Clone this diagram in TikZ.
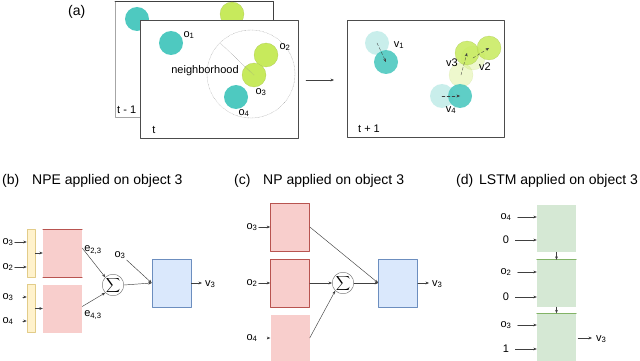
\documentclass[tikz,border=0pt]{standalone}
\usepackage{fontspec}
\setmainfont{Liberation Sans}
\usetikzlibrary{arrows.meta,calc,positioning}
\definecolor{ballteal}{RGB}{78,201,192}
\definecolor{balllime}{RGB}{199,234,92}
\definecolor{npered}{RGB}{248,206,204}
\definecolor{npeline}{RGB}{184,84,80}
\definecolor{npblue}{RGB}{218,232,252}
\definecolor{npblueline}{RGB}{108,142,191}
\definecolor{lstmgreen}{RGB}{213,232,212}
\definecolor{lstmline}{RGB}{130,179,102}
\definecolor{pairyellow}{RGB}{255,242,204}
\definecolor{pairline}{RGB}{214,182,86}
\newcommand{\sub}[2]{#1\textsubscript{#2}}

\begin{document}
\begin{tikzpicture}[x=1pt,y=-1pt,>=Stealth,line cap=round,line join=round,
  lbl/.style={font=\fontsize{11}{12}\selectfont,inner sep=1pt},
  ttl/.style={font=\fontsize{14}{16}\selectfont,anchor=west,inner sep=0pt},
  worldframe/.style={draw=black!70,fill=white,line width=0.7pt},
  ball/.style={circle,minimum size=24pt,inner sep=0pt},
  tealball/.style={ball,fill=ballteal},
  limeball/.style={ball,fill=balllime,draw=balllime!85!black,line width=0.2pt},
  ghost/.style={opacity=0.3},
  conn/.style={-{Stealth[length=3.5pt,width=2.8pt]},black!75,line width=0.45pt},
  move/.style={conn,densely dashed,line width=0.35pt},
  redbox/.style={fill=npered,minimum width=39pt,minimum height=48pt,inner sep=0pt},
  bluebox/.style={fill=npblue,draw=npblueline,line width=0.6pt,minimum width=39pt,minimum height=48pt,inner sep=0pt},
  greenbox/.style={fill=lstmgreen,minimum width=39pt,minimum height=47pt,inner sep=0pt},
  pairbar/.style={fill=pairyellow,draw=pairline!70,line width=0.5pt,minimum width=8pt,minimum height=48pt,inner sep=0pt},
  sumnode/.style={circle,draw=black!60,fill=white,minimum size=18pt,inner sep=0pt,font=\fontsize{10}{10}\selectfont}]
 \useasboundingbox (0,0) rectangle (640,361);

 % (a) scene at t-1, t and t+1
 \node[ttl] (taga) at (68,12) {(a)};
 \draw[draw=black!35,fill=white,line width=0.7pt] (115,1) rectangle (273,117);
 \draw[black!75,line width=0.7pt] (115,1) -- (273,1) -- (273,20);
 \node[tealball] (prevone) at (137,19) {};
 \node[limeball] (prevtwo) at (232,14) {};
 \node[lbl,anchor=west] (tprev) at (116,110) {t - 1};
 \draw[worldframe] (140,20) rectangle (298,138);
 \node[lbl] (tnow) at (154,130) {t};
 \draw[black!35,densely dotted] (251,74) circle (44);
 \node[tealball] (oone) at (171,43) {};
 \node[limeball] (otwo) at (266,55) {};
 \node[limeball] (othree) at (254,75) {};
 \node[tealball] (ofour) at (236,97) {};
 \coordinate (nbedge) at (220,43);
 \draw[black!45,densely dotted] (othree.center) -- (nbedge);
 \node[lbl] (loone) at (189,35) {\sub{o}{1}};
 \node[lbl] (lotwo) at (285,47) {\sub{o}{2}};
 \node[lbl] (lothree) at (261,92) {\sub{o}{3}};
 \node[lbl] (lofour) at (244,113) {\sub{o}{4}};
 \node[lbl] (nbtext) at (205,71) {neighborhood};
 \coordinate (stepfrom) at (306,80);
 \coordinate (stepto) at (334,80);
 \draw[conn] (stepfrom) -- (stepto);

 \draw[worldframe] (347,20) rectangle (504,137);
 \node[lbl] (tnext) at (369,129) {t + 1};
 \node[tealball,ghost] (oldone) at (377,43) {};
 \node[limeball,ghost] (oldtwo) at (473,58) {};
 \node[limeball,ghost] (oldthree) at (461,75) {};
 \node[tealball,ghost] (oldfour) at (442,96) {};
 \node[tealball,opacity=0.9] (newone) at (386,62) {};
 \node[limeball,opacity=0.85] (newthree) at (467,53) {};
 \node[limeball,opacity=0.85] (newtwo) at (489,48) {};
 \node[tealball,opacity=0.9] (newfour) at (460,96) {};
 \draw[move] (oldone.center) -- (newone.center);
 \draw[move] (oldtwo.center) -- (newtwo.center);
 \draw[move] (oldthree.center) -- (newthree.center);
 \draw[move] (oldfour.center) -- (newfour.center);
 \node[lbl] (lvone) at (399,45) {\sub{v}{1}};
 \node[lbl] (lvtwo) at (485,67) {v2};
 \node[lbl] (lvthree) at (452,63) {v3};
 \node[lbl] (lvfour) at (451,110) {\sub{v}{4}};

 % (b) NPE
 \node[ttl] (tagb) at (2,181) {(b)};
 \node[ttl] (titleb) at (32,181) {NPE applied on object 3};
 \node[pairbar] (pairtop) at (31,253) {};
 \node[pairbar] (pairbot) at (31,308.5) {};
 \node[redbox] (enctop) at (62.5,253) {};
 \node[redbox] (encbot) at (62.5,308.5) {};
 \draw[npeline,line width=0.6pt] (enctop.north west) -- (enctop.north east)
  (enctop.south west) -- (enctop.south east);
 \node[sumnode] (sumb) at (113,285) {$\displaystyle\sum$};
 \node[bluebox] (decb) at (171.5,283) {};
 \node[lbl] (pbthree) at (8,242) {\sub{o}{3}};
 \node[lbl] (pbtwo) at (8,267) {\sub{o}{2}};
 \node[lbl] (pbthreelow) at (8,297) {\sub{o}{3}};
 \node[lbl] (pbfour) at (8,321) {\sub{o}{4}};
 \draw[conn] (pbthree.east) -- (pairtop.west |- pbthree);
 \draw[conn] (pbtwo.east) -- (pairtop.west |- pbtwo);
 \draw[conn] ($(pairbot.west |- pbthreelow)+(-4,0)$) -- (pairbot.west |- pbthreelow);
 \draw[conn] ($(pairbot.west |- pbfour)+(-4,0)$) -- (pairbot.west |- pbfour);
 \draw[conn] (pairtop.east) -- (enctop.west);
 \draw[conn] (pairbot.east) -- (encbot.west);
 \draw[conn] ($(enctop.east)+(0,-5)$) -- (sumb.north west);
 \draw[conn] ($(encbot.east)+(0,-2)$) -- (sumb.south west);
 \node[lbl] (etwo) at (93,250) {\sub{e}{2,3}};
 \node[lbl] (efour) at (93,315) {\sub{e}{4,3}};
 \node[lbl] (pbself) at (120,255) {\sub{o}{3}};
 \draw[conn] (pbself.south east) -- (decb.west);
 \draw[conn] (sumb.east) -- (decb.west);
 \coordinate (outb) at (202,283);
 \draw[conn] (decb.east) -- (outb);
 \node[lbl,anchor=west] (vb) at (204,284) {\sub{v}{3}};

 % (c) NP
 \node[ttl] (tagc) at (234,181) {(c)};
 \node[ttl] (titlec) at (263,181) {NP applied on object 3};
 \node[redbox,draw=npeline,line width=0.6pt] (nptop) at (290,227) {};
 \node[redbox,draw=npeline,line width=0.6pt] (npmid) at (290,283) {};
 \node[redbox,minimum height=47pt] (npbot) at (290,338) {};
 \node[sumnode] (sumc) at (343,283) {$\displaystyle\sum$};
 \node[bluebox] (decc) at (398,283) {};
 \node[lbl] (pcthree) at (252,227) {\sub{o}{3}};
 \node[lbl] (pctwo) at (252,283) {\sub{o}{2}};
 \node[lbl] (pcfour) at (252,338) {\sub{o}{4}};
 \draw[conn] (pcthree.east) -- (nptop.west |- pcthree);
 \draw[conn] (pctwo.east) -- (npmid.west |- pctwo);
 \draw[conn] ($(npbot.west |- pcfour)+(-3,0)$) -- (npbot.west |- pcfour);
 \draw[conn] (npmid.east) -- (sumc.west);
 \draw[conn] (npbot.east) -- (sumc.south west);
 \draw[conn] (nptop.east) -- (decc.west);
 \draw[conn] (sumc.east) -- (decc.west);
 \coordinate (outc) at (429,283);
 \draw[conn] (decc.east) -- (outc);
 \node[lbl,anchor=west] (vc) at (431,284) {\sub{v}{3}};

 % (d) LSTM
 \node[ttl] (tagd) at (456,181) {(d)};
 \node[ttl] (titled) at (479,181) {LSTM applied on object 3};
 \node[greenbox] (celltop) at (556.5,228.5) {};
 \node[greenbox] (cellmid) at (556.5,283.5) {};
 \node[greenbox] (cellbot) at (556.5,337) {};
 \draw[lstmline,line width=0.8pt] (cellmid.north west) -- (cellmid.north east)
  (cellbot.north west) -- (cellbot.north east);
 \node[lbl] (pdfour) at (506,217) {\sub{o}{4}};
 \node[lbl] (pdzeroa) at (506,240) {0};
 \node[lbl] (pdtwo) at (506,272) {\sub{o}{2}};
 \node[lbl] (pdzerob) at (506,297) {0};
 \node[lbl] (pdthree) at (506,325) {\sub{o}{3}};
 \node[lbl] (pdone) at (506,349) {1};
 \foreach \inp/\cell in {pdfour/celltop,pdzeroa/celltop,pdtwo/cellmid,pdzerob/cellmid,pdthree/cellbot,pdone/cellbot}
  \draw[conn] ($(\inp.east)+(5,0)$) -- (\cell.west |- \inp);
 \draw[conn] (celltop.south) -- (cellmid.north);
 \draw[conn] (cellmid.south) -- (cellbot.north);
 \coordinate (outd) at (592,338);
 \draw[conn] ($(cellbot.east)+(2,1)$) -- (outd);
 \node[lbl,anchor=west] (vd) at (595,339) {\sub{v}{3}};
\end{tikzpicture}
\end{document}
